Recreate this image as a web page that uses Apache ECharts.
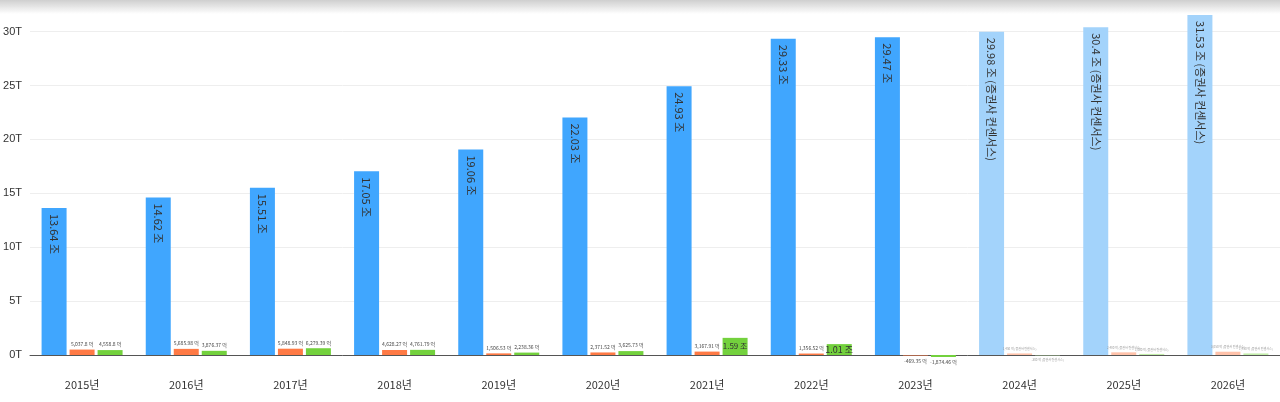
<!DOCTYPE html>
<html><head><meta charset="utf-8">
<script src="https://cdn.jsdelivr.net/npm/echarts@6/dist/echarts.min.js"></script>
<style>
html,body{margin:0;padding:0;background:#fff;overflow:hidden;}
#c{width:1280px;height:402px;}
#shade{position:absolute;left:0;top:0;width:1280px;height:14px;background:linear-gradient(#cfcfcf,rgba(255,255,255,0));}
</style></head>
<body><div id="c"></div><div id="shade"></div>
<script>
// 연도
var years = ['2015년','2016년','2017년','2018년','2019년','2020년','2021년','2022년','2023년','2024년','2025년','2026년'];
// 매출 (조)
var revenue = [13.64,14.62,15.51,17.05,19.06,22.03,24.93,29.33,29.47,29.98,30.4,31.53];
// 영업이익 (억)
var opProfit = [5037.8,5685.98,5848.93,4628.27,1506.53,2371.52,3167.91,1356.52,-469.35,1450,2480,3050];
// 순이익 (억)
var netProfit = [4558.8,3876.37,6279.39,4761.79,2238.36,3625.73,15900,10100,-1874.46,-300,1000,1450];
var forecastFrom = 9;

function fmtEok(v) {
    if (Math.abs(v) >= 10000) return (v / 10000).toFixed(2).replace(/0$/, '') + ' 조';
    return v.toLocaleString('en-US', {maximumFractionDigits: 2}) + ' 억';
}

var chart = echarts.init(document.getElementById('c'));

var blueData = revenue.map(function (v, i) {
    var f = i >= forecastFrom;
    return {
        value: v,
        itemStyle: {color: f ? '#a3d3fb' : '#40a6fe'},
        label: {formatter: v + ' 조' + (f ? ' (증권사 컨센서스)' : '')}
    };
});

function smallSeries(arr, color, lightColor) {
    return arr.map(function (v, i) {
        var f = i >= forecastFrom;
        var big = Math.abs(v) >= 10000;
        var d = {
            value: v / 10000,
            itemStyle: {color: f ? lightColor : color},
            label: {
                formatter: f ? fmtEok(v) + ' (증권사 컨센서스)' : fmtEok(v),
                position: v < 0 ? 'bottom' : 'top',
                fontSize: f ? 3 : 5,
                color: f ? '#999' : '#444'
            }
        };
        if (big && v > 12000) {
            d.label = {formatter: fmtEok(v), position: 'inside', fontSize: 8, color: '#333'};
        } else if (big) {
            d.label = {formatter: fmtEok(v), fontSize: 9, color: '#333', distance: 6};
        }
        return d;
    });
}

var option = {
    animation: false,
    grid: {left: 30, width: 1266, top: 10, bottom: 47},
    xAxis: {
        type: 'category',
        data: years,
        axisTick: {show: false},
        axisLine: {lineStyle: {color: '#555'}},
        axisLabel: {color: '#333', fontSize: 11, margin: 24, fontFamily: 'Noto Sans CJK KR'}
    },
    yAxis: {
        type: 'value',
        min: 0,
        max: 32,
        interval: 5,
        axisLabel: {color: '#333', fontSize: 11, showMaxLabel: false, formatter: function (v) { return v + 'T'; }},
        splitLine: {showMaxLine: false, lineStyle: {color: '#eee'}}
    },
    series: [
        {
            type: 'bar', name: '매출', data: blueData, clip: false,
            barWidth: 25, barGap: '12%',
            label: {show: true, position: 'insideTop', rotate: -90, align: 'left', verticalAlign: 'middle',
                distance: 6, color: '#333', fontSize: 11, fontFamily: 'Noto Sans CJK KR'}
        },
        {
            type: 'bar', name: '영업이익', data: smallSeries(opProfit, '#ff7a45', '#ffc2aa'), clip: false,
            barWidth: 25, barGap: '12%',
            label: {show: true, distance: 3, fontFamily: 'Noto Sans CJK KR'}
        },
        {
            type: 'bar', name: '순이익', data: smallSeries(netProfit, '#73d13d', '#c2eeaa'), clip: false,
            barWidth: 25, barGap: '12%',
            label: {show: true, distance: 3, fontFamily: 'Noto Sans CJK KR'}
        }
    ]
};
chart.setOption(option);
</script>
</body></html>
